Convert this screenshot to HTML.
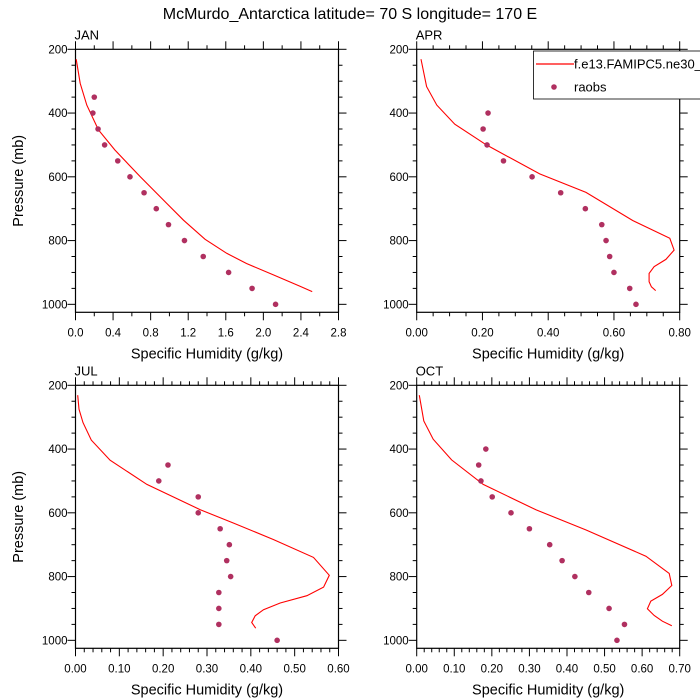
<!DOCTYPE html>
<html><head><meta charset="utf-8"><style>
body{margin:0;background:#fff}
svg{display:block;font-family:"Liberation Sans",sans-serif}
</style></head><body>
<svg id="c" width="700" height="700" viewBox="0 0 700 700">
<text x="350" y="19" text-anchor="middle" font-size="16">McMurdo_Antarctica  latitude= 70 S longitude= 170 E</text>
</svg>
<script>
const months=["JAN","APR","JUL","OCT"];
const xMax=[2.8,0.8,0.6,0.7];
const xMajor=[0.4,0.2,0.1,0.1];
const xMinor=[0.2,0.05,0.02,0.02];
const xDec=[1,2,2,2];
const janModelX=[0.007,0.05,0.12,0.245,0.42,0.69,0.97,1.15,1.38,1.61,1.82,2.11,2.39,2.52];
const janModelP=[231,307,375,453,516,600,683,736,796,840,872,908,943,960];
const janObsX=[0.20,0.185,0.24,0.31,0.45,0.58,0.73,0.86,0.99,1.16,1.36,1.63,1.88,2.13];
const janObsP=[350,400,450,500,550,600,650,700,750,800,850,900,950,1000];
const aprModelX=[0.013,0.03,0.061,0.116,0.212,0.374,0.515,0.657,0.77,0.783,0.758,0.722,0.707,0.707,0.714,0.727];
const aprModelP=[231,317,375,435,500,591,649,737,793,830,859,882,903,929,945,957];
const aprObsX=[0.217,0.202,0.214,0.264,0.351,0.438,0.513,0.563,0.576,0.587,0.6,0.648,0.667];
const aprObsP=[400,450,500,550,600,650,700,750,800,850,900,950,1000];
const julModelX=[0.005,0.008,0.017,0.036,0.079,0.163,0.284,0.36,0.452,0.543,0.579,0.566,0.528,0.467,0.429,0.41,0.402,0.411];
const julModelP=[231,275,317,372,435,511,590,632,684,740,796,833,860,883,904,923,944,962];
const julObsX=[0.211,0.19,0.28,0.28,0.33,0.351,0.345,0.354,0.327,0.327,0.327,0.46];
const julObsP=[450,500,550,600,650,700,750,800,850,900,950,1000];
const octModelX=[0.007,0.019,0.044,0.093,0.177,0.318,0.451,0.61,0.672,0.679,0.654,0.623,0.614,0.632,0.654,0.679];
const octModelP=[231,312,369,434,511,591,654,736,790,828,856,877,901,922,940,954];
const octObsX=[0.184,0.165,0.171,0.201,0.251,0.3,0.354,0.387,0.421,0.458,0.512,0.553,0.533];
const octObsP=[400,450,500,550,600,650,700,750,800,850,900,950,1000];
const modelXs=[janModelX,aprModelX,julModelX,octModelX];
const modelPs=[janModelP,aprModelP,julModelP,octModelP];
const obsXs=[janObsX,aprObsX,julObsX,octObsX];
const obsPs=[janObsP,aprObsP,julObsP,octObsP];

const NS="http://www.w3.org/2000/svg";
const svg=document.getElementById("c");
function mk(tag,attrs,parent){const e=document.createElementNS(NS,tag);for(const k in attrs)e.setAttribute(k,attrs[k]);(parent||svg).appendChild(e);return e;}
const origins=[[75.5,49.3],[416.7,49.3],[75.5,385.3],[416.7,385.3]];
const W=263,PH=263,pTop=200,pBot=1025;
for(let i=0;i<4;i++){
  const [ox,oy]=origins[i];
  const g=mk("g",{});
  
  
  const xs=v=>ox+v/xMax[i]*W;
  const ys=p=>oy+(p-pTop)/(pBot-pTop)*PH;
  const t=mk("text",{x:ox-1,y:oy-10,"font-size":13},g);t.textContent=months[i];
  
  
  const fr=mk("rect",{x:ox,y:oy,width:W,height:PH,fill:"none",stroke:"#000","stroke-width":1.2},g);
  
  
  for(let p=200;p<=1000;p+=50){
    const y=ys(p),L=(p%200===0)?8:4;
    mk("line",{x1:ox-L,x2:ox,y1:y,y2:y,stroke:"#000"},g);
    mk("line",{x1:ox+W,x2:ox+W+L,y1:y,y2:y,stroke:"#000"},g);
    if(p%200===0){const tl=mk("text",{x:ox-8,y:y+4,"text-anchor":"end","font-size":11.5},g);tl.textContent=p;
      
      }
  }
  const nmin=Math.round(xMax[i]/xMinor[i]),ratio=Math.round(xMajor[i]/xMinor[i]);
  for(let k=0;k<=nmin;k++){
    const v=k*xMinor[i],x=xs(v),maj=k%ratio===0,L=maj?8:4;
    mk("line",{x1:x,x2:x,y1:oy+PH,y2:oy+PH+L,stroke:"#000"},g);
    mk("line",{x1:x,x2:x,y1:oy-L,y2:oy,stroke:"#000"},g);
    if(maj){const tl=mk("text",{x:x,y:oy+PH+24,"text-anchor":"middle","font-size":11.5},g);tl.textContent=v.toFixed(xDec[i]);
      
      }
  }
  const xt=mk("text",{x:ox+W/2,y:oy+PH+46,"text-anchor":"middle","font-size":14.5},g);xt.textContent="Specific Humidity (g/kg)";
  
  
  if(i%2===0){const yt=mk("text",{x:0,y:0,"text-anchor":"middle","font-size":14.5,transform:`translate(23,${oy+PH/2}) rotate(-90)`},g);yt.textContent="Pressure (mb)";
    
    }
  const pts=modelXs[i].map((v,j)=>xs(v).toFixed(1)+","+ys(modelPs[i][j]).toFixed(1)).join(" ");
  const pl=mk("polyline",{points:pts,fill:"none",stroke:"#ff0000","stroke-width":1.1},g);
  
  
  obsXs[i].forEach((v,j)=>{
    const c=mk("circle",{cx:xs(v),cy:ys(obsPs[i][j]),r:2.8,fill:"#b03060"},g);
    
    
  });
}
const lg=mk("g",{});


mk("rect",{x:533.5,y:51,width:180,height:48,fill:"#fff",stroke:"#000","stroke-width":0.8},lg);
mk("line",{x1:536,x2:574,y1:64,y2:64,stroke:"#ff0000","stroke-width":1.2},lg);
const l1=mk("text",{x:574,y:68.5,"font-size":13},lg);l1.textContent="f.e13.FAMIPC5.ne30_";


mk("circle",{cx:554,cy:87,r:2.8,fill:"#b03060"},lg);
const l2=mk("text",{x:574,y:91.5,"font-size":13},lg);l2.textContent="raobs";


</script>
</body></html>
